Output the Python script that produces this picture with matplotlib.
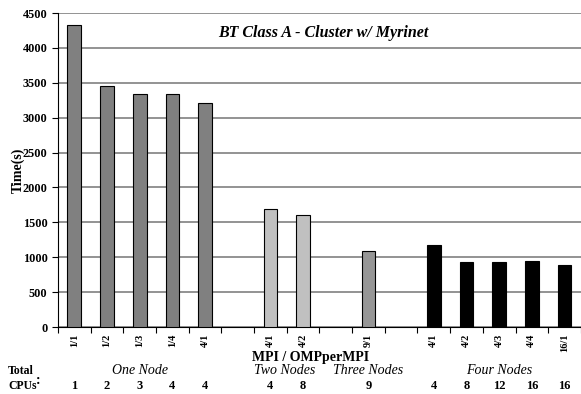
import matplotlib
matplotlib.use("Agg")
import matplotlib.pyplot as plt
import matplotlib.transforms as mtransforms

plt.rcParams['font.family'] = ['Liberation Serif', 'DejaVu Serif']

# categorias (slots vazios separam os grupos)
labels = ["1/1", "1/2", "1/3", "1/4", "4/1", "", "4/1", "4/2", "", "9/1", "",
          "4/1", "4/2", "4/3", "4/4", "16/1"]
tempos = [4325, 3455, 3335, 3345, 3205, None, 1688, 1600, None, 1085, None,
          1175, 928, 935, 950, 890]
grupo = [0, 0, 0, 0, 0, None, 1, 1, None, 2, None, 3, 3, 3, 3, 3]
cpus = ["1", "2", "3", "4", "4", "", "4", "8", "", "9", "", "4", "8", "12", "16", "16"]

nomes_grupos = ["One Node", "Two Nodes", "Three Nodes", "Four Nodes"]
cores = ["#808080", "#c0c0c0", "#969696", "#000000"]

fig = plt.figure(figsize=(5.81, 3.94), dpi=100)
ax = fig.add_axes([0.0998, 0.170, 0.9, 0.797])

for i, (v, g) in enumerate(zip(tempos, grupo)):
    if v is None:
        continue
    ax.bar(i, v, width=0.42, color=cores[g], edgecolor="black", linewidth=0.8, zorder=3)

ax.set_xlim(-0.5, len(labels) - 0.5)
ax.set_ylim(0, 4500)
ax.set_yticks(range(0, 4501, 500))
ax.yaxis.grid(True, color="#808080", linewidth=1.2, zorder=0)
ax.set_axisbelow(True)

for s in ["top", "right"]:
    ax.spines[s].set_visible(False)
ax.spines["left"].set_linewidth(0.8)
ax.spines["bottom"].set_linewidth(0.8)

# ticks menores entre categorias, rótulos nos centros
ax.set_xticks(range(len(labels)))
ax.set_xticklabels(labels, rotation=90, fontweight="bold", fontsize=7.5)
ax.tick_params(axis="x", which="major", length=0, pad=4.5)
ax.set_xticks([i + 0.5 for i in range(-1, len(labels))], minor=True)
ax.tick_params(axis="x", which="minor", length=4, width=0.8, direction="out")
ax.tick_params(axis="y", length=4, width=0.8, direction="out", labelsize=8.8)
for t in ax.get_yticklabels():
    t.set_fontweight("bold")

ax.set_ylabel("Time(s)", fontweight="bold", fontsize=10)
ax.yaxis.set_label_coords(-0.063, 0.5)

ax.text(0.508, 0.935, "BT Class A - Cluster w/ Myrinet", transform=ax.transAxes,
        ha="center", va="center", fontsize=11.5, fontweight="bold", style="italic")

trans = mtransforms.blended_transform_factory(ax.transData, fig.transFigure)
fig.text(0.535, 1 - 357 / 394, "MPI / OMPperMPI", ha="center", va="center",
         fontsize=10, fontweight="bold")

# nomes dos grupos
for g, nome in enumerate(nomes_grupos):
    idx = [i for i, gg in enumerate(grupo) if gg == g]
    xc = sum(idx) / len(idx)
    if g == 1:
        xc -= 0.05
    ax.text(xc, 1 - 371 / 394, nome, transform=trans, ha="center", va="center",
            fontsize=10, style="italic")

for i, c in enumerate(cpus):
    if c:
        ax.text(i, 1 - 386 / 394, c, transform=trans, ha="center", va="center",
                fontsize=9, fontweight="bold")

fig.text(8 / 581, 1 - 371 / 394, "Total", ha="left", va="center", fontsize=8.5, fontweight="bold")
fig.text(8 / 581, 1 - 386 / 394, "CPUs", ha="left", va="center", fontsize=8.5, fontweight="bold")
fig.text(36 / 581, 1 - 381 / 394, ":", ha="left", va="center", fontsize=10, fontweight="bold")

fig.savefig("out.png", dpi=100)
